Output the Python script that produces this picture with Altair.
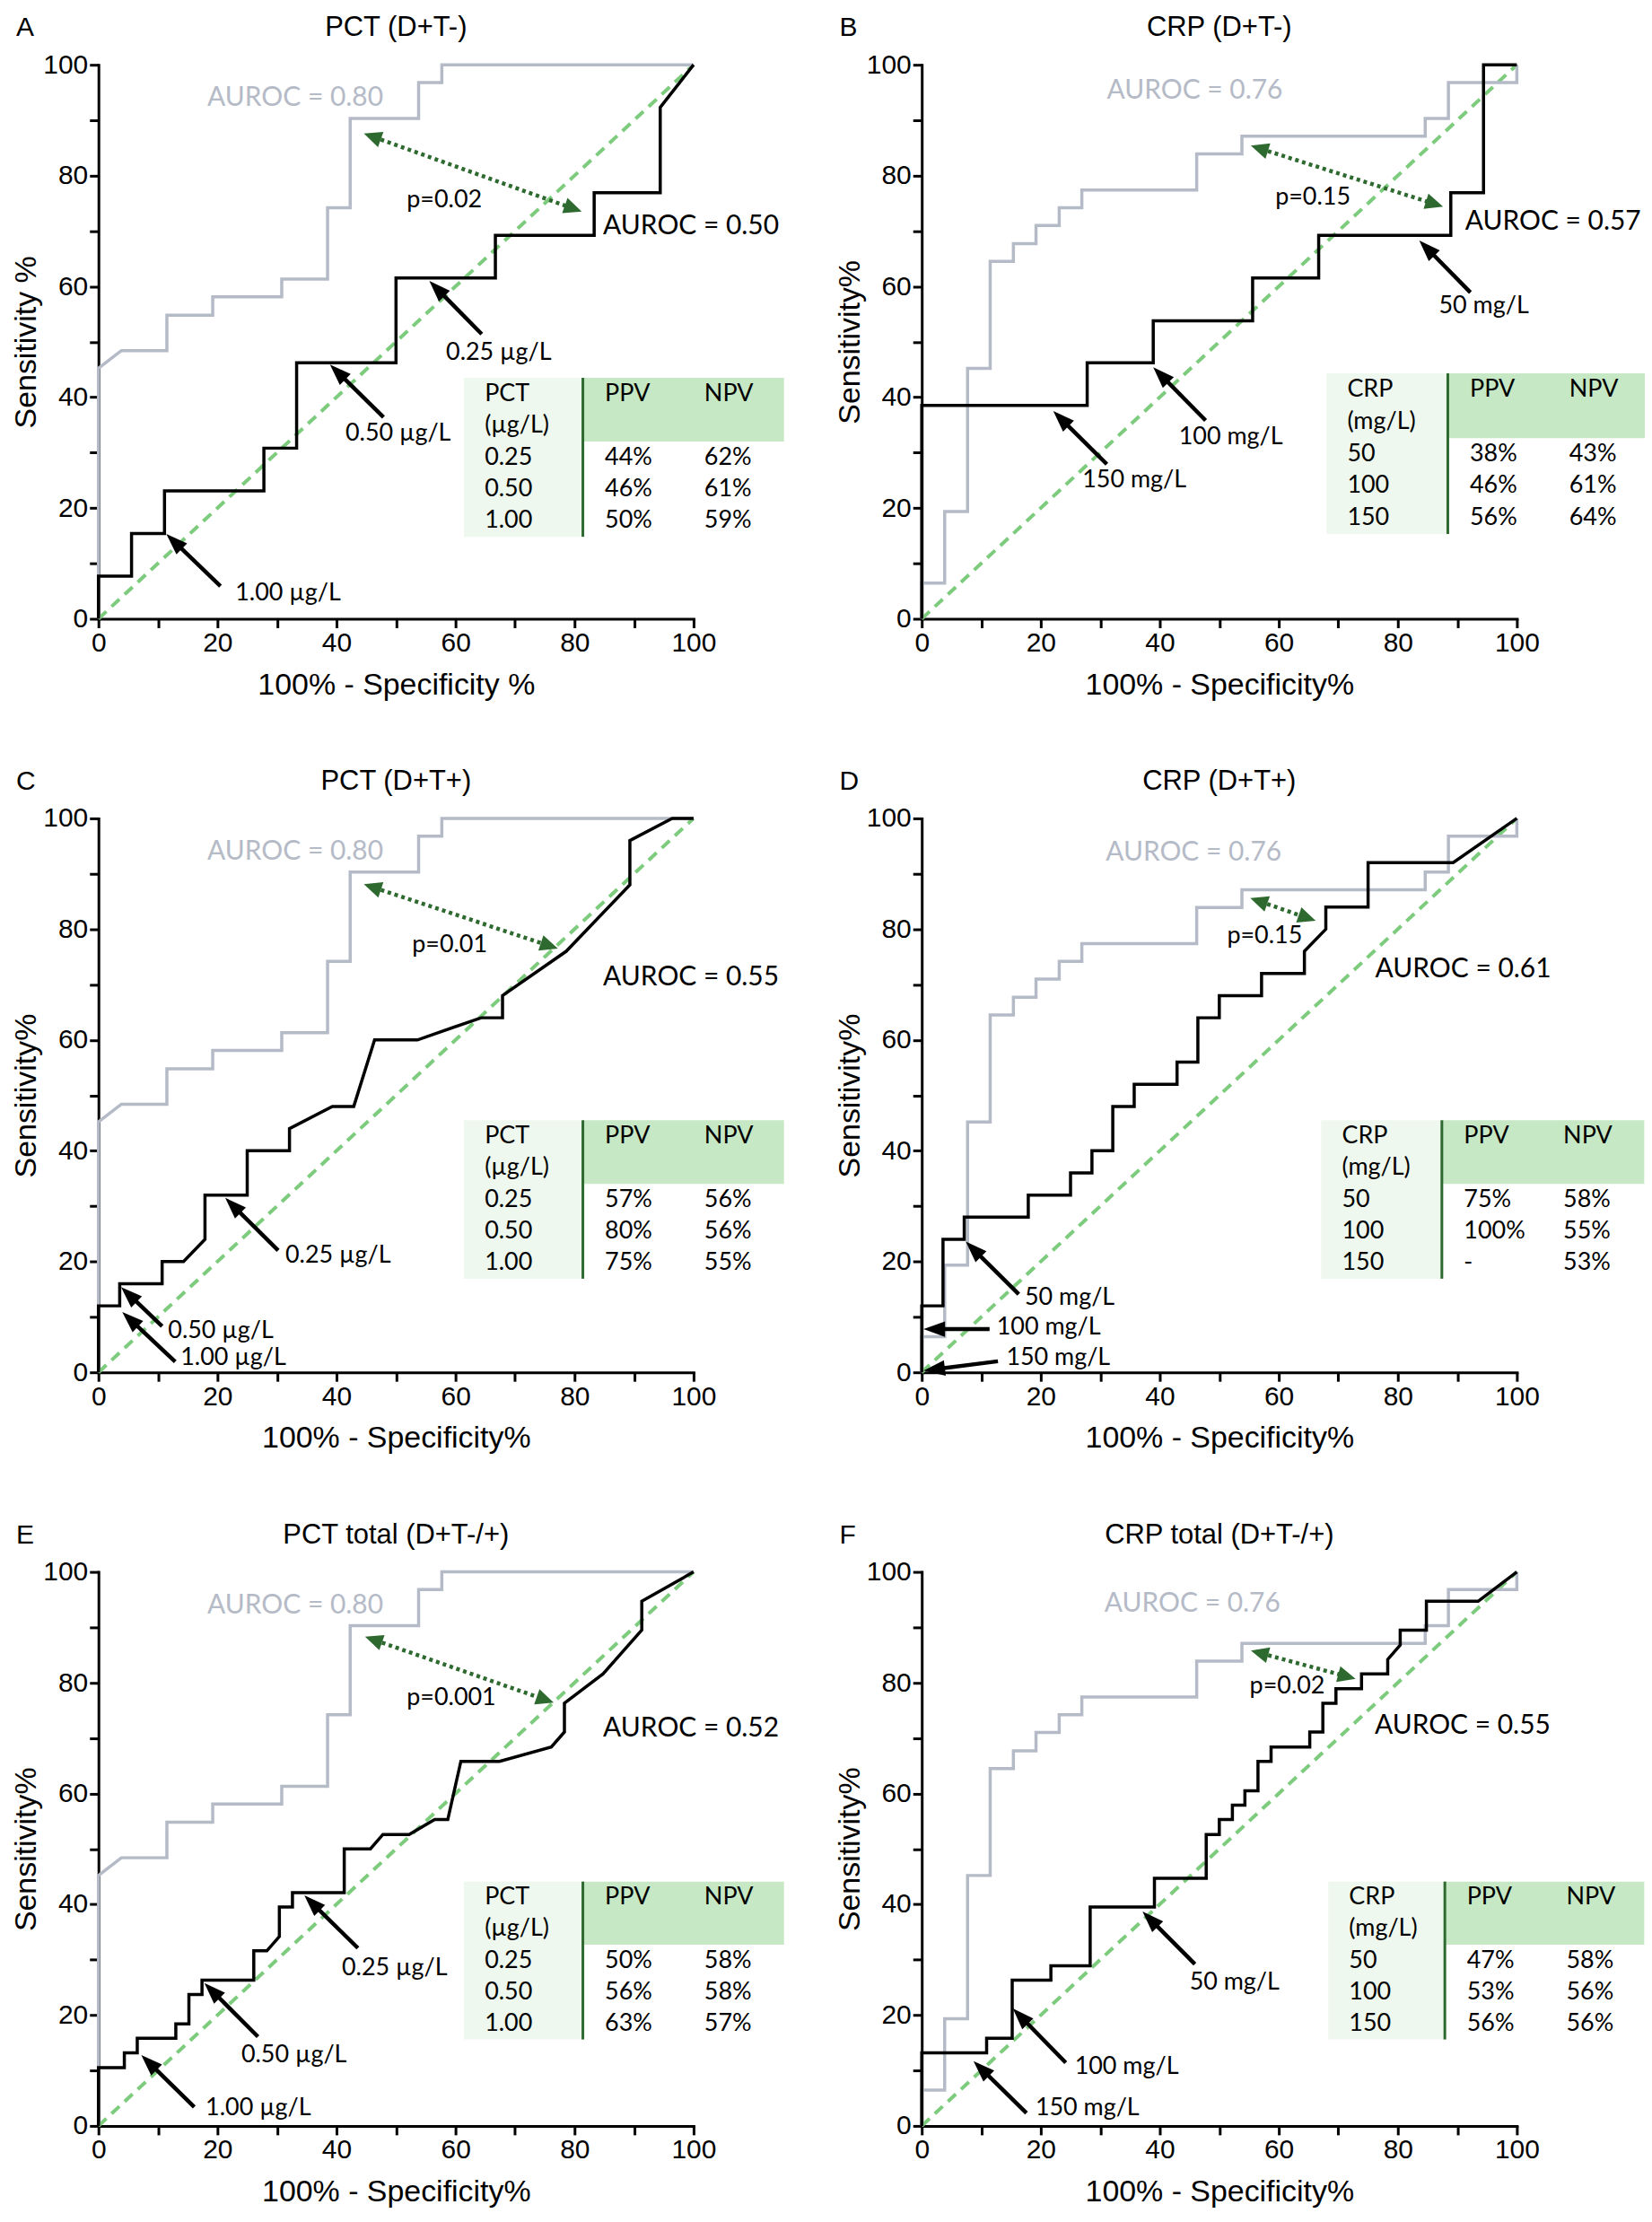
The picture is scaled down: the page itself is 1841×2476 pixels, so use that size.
import math
import altair as alt
import pandas as pd

# ---------------- data: reference ROC curves (grey) ----------------
GREY_PCT_X = [0, 0, 3.85, 11.5, 11.5, 19.2, 19.2, 30.8, 30.8, 38.5, 38.5, 42.3, 42.3, 53.8, 53.8, 57.7, 57.7, 100]
GREY_PCT_Y = [0, 45.2, 48.4, 48.4, 54.8, 54.8, 58.1, 58.1, 61.3, 61.3, 74.2, 74.2, 90.3, 90.3, 96.8, 96.8, 100, 100]
GREY_CRP_X = [0, 0, 3.85, 3.85, 7.7, 7.7, 11.5, 11.5, 15.4, 15.4, 19.2, 19.2, 23.1, 23.1, 26.9, 26.9,
              46.2, 46.2, 53.8, 53.8, 84.6, 84.6, 88.5, 88.5, 100, 100]
GREY_CRP_Y = [0, 6.45, 6.45, 19.35, 19.35, 45.2, 45.2, 64.5, 64.5, 67.7, 67.7, 71.0, 71.0, 74.2, 74.2, 77.4,
              77.4, 83.9, 83.9, 87.1, 87.1, 90.3, 90.3, 96.8, 96.8, 100]

# ---------------- data: ROC curves of each panel (black) ----------------
A_X = [0, 0, 5.56, 5.56, 11.1, 11.1, 27.8, 27.8, 33.3, 33.3, 50, 50, 66.7, 66.7, 83.3, 83.3, 94.4, 94.4, 100]
A_Y = [0, 7.7, 7.7, 15.4, 15.4, 23.1, 23.1, 30.8, 30.8, 46.2, 46.2, 61.5, 61.5, 69.2, 69.2, 76.9, 76.9, 92.3, 100]
B_X = [0, 0, 27.8, 27.8, 38.9, 38.9, 55.6, 55.6, 66.7, 66.7, 88.9, 88.9, 94.4, 94.4, 100]
B_Y = [0, 38.5, 38.5, 46.2, 46.2, 53.8, 53.8, 61.5, 61.5, 69.2, 69.2, 76.9, 76.9, 100, 100]
C_X = [0, 0, 3.57, 3.57, 10.7, 10.7, 14.3, 17.9, 17.9, 25.0, 25.0, 32.1, 32.1, 39.3, 42.9, 46.4, 53.6,
       64.3, 67.9, 67.9, 78.6, 89.3, 89.3, 96.4, 100]
C_Y = [0, 12, 12, 16, 16, 20, 20, 24, 32, 32, 40, 40, 44, 48, 48, 60, 60, 64, 64, 68, 76, 88, 96, 100, 100]
D_X = [0, 0, 3.57, 3.57, 7.14, 7.14, 17.9, 17.9, 25, 25, 28.6, 28.6, 32.1, 32.1, 35.7, 35.7, 42.9, 42.9,
       46.4, 46.4, 50, 50, 57.1, 57.1, 64.3, 64.3, 67.9, 67.9, 75, 75, 89.3, 100]
D_Y = [0, 12, 12, 24, 24, 28, 28, 32, 32, 36, 36, 40, 40, 48, 48, 52, 52, 56, 56, 64, 64, 68, 68, 72, 72,
       76, 80, 84, 84, 92, 92, 100]
E_X = [0, 0, 4.35, 4.35, 6.52, 6.52, 13.0, 13.0, 15.2, 15.2, 17.4, 17.4, 26.1, 26.1, 28.3, 30.4, 30.4,
       32.6, 32.6, 41.3, 41.3, 45.7, 47.8, 52.2, 56.5, 58.7, 60.9, 67.4, 76.1, 78.3, 78.3, 84.8, 91.3, 91.3, 100]
E_Y = [0, 10.5, 10.5, 13.2, 13.2, 15.8, 15.8, 18.4, 18.4, 23.7, 23.7, 26.3, 26.3, 31.6, 31.6, 34.2, 39.5,
       39.5, 42.1, 42.1, 50, 50, 52.6, 52.6, 55.3, 55.3, 65.8, 65.8, 68.4, 71.1, 76.3, 81.6, 89.5, 94.7, 100]
F_X = [0, 0, 10.9, 10.9, 15.2, 15.2, 21.7, 21.7, 28.3, 28.3, 39.1, 39.1, 47.8, 47.8, 50, 50, 52.2, 52.2,
       54.3, 54.3, 56.5, 56.5, 58.7, 58.7, 65.2, 65.2, 67.4, 67.4, 69.6, 69.6, 73.9, 73.9, 78.3, 78.3,
       80.4, 80.4, 84.8, 84.8, 93.5, 100]
F_Y = [0, 13.2, 13.2, 15.8, 15.8, 26.3, 26.3, 28.9, 28.9, 39.5, 39.5, 44.7, 44.7, 52.6, 52.6, 55.3, 55.3,
       57.9, 57.9, 60.5, 60.5, 65.8, 65.8, 68.4, 68.4, 71.1, 71.1, 76.3, 76.3, 78.9, 78.9, 81.6, 81.6,
       84.2, 86.8, 89.5, 89.5, 94.7, 94.7, 100]

CURVES_X = [A_X, B_X, C_X, D_X, E_X, F_X]
CURVES_Y = [A_Y, B_Y, C_Y, D_Y, E_Y, F_Y]
GREY_X = [GREY_PCT_X, GREY_CRP_X] * 3
GREY_Y = [GREY_PCT_Y, GREY_CRP_Y] * 3

# ---------------- texts ----------------
LETTERS = ["A", "B", "C", "D", "E", "F"]
TITLES = ["PCT (D+T-)", "CRP (D+T-)", "PCT (D+T+)", "CRP (D+T+)", "PCT total (D+T-/+)", "CRP total (D+T-/+)"]
X_TITLES = ["100% - Specificity %"] + ["100% - Specificity%"] * 5
Y_TITLES = ["Sensitivity %"] + ["Sensitivity%"] * 5
AUROC_REF = ["AUROC = 0.80", "AUROC = 0.76"] * 3
AUROC_CUR = ["AUROC = 0.50", "AUROC = 0.57", "AUROC = 0.55", "AUROC = 0.61", "AUROC = 0.52", "AUROC = 0.55"]
P_VALUES = ["p=0.02", "p=0.15", "p=0.01", "p=0.15", "p=0.001", "p=0.02"]
CUT_LABELS = [["1.00 µg/L", "0.50 µg/L", "0.25 µg/L"],
              ["50 mg/L", "100 mg/L", "150 mg/L"],
              ["0.25 µg/L", "0.50 µg/L", "1.00 µg/L"],
              ["50 mg/L", "100 mg/L", "150 mg/L"],
              ["0.25 µg/L", "0.50 µg/L", "1.00 µg/L"],
              ["50 mg/L", "100 mg/L", "150 mg/L"]]
TABLE_HEAD = [["PCT", "(µg/L)"], ["CRP", "(mg/L)"]] * 3
TABLE_COLS = ["PPV", "NPV"]
TABLE_CUTS = [["0.25", "0.50", "1.00"], ["50", "100", "150"]] * 3
PPV = [["44%", "46%", "50%"], ["38%", "46%", "56%"], ["57%", "80%", "75%"],
       ["75%", "100%", "-"], ["50%", "56%", "63%"], ["47%", "53%", "56%"]]
NPV = [["62%", "61%", "59%"], ["43%", "61%", "64%"], ["56%", "56%", "55%"],
       ["58%", "55%", "53%"], ["58%", "58%", "57%"], ["58%", "56%", "56%"]]

# ---------------- annotation placement (data coordinates) ----------------
ARROWS = [
    [(20.5, 5.9, 11.4, 15.3), (47.9, 36.4, 38.9, 45.9), (64.4, 51.4, 55.6, 61.0)],
    [(92.2, 58.9, 83.6, 68.3), (47.7, 35.8, 38.9, 45.4), (31.1, 27.9, 22.1, 37.5)],
    [(30.2, 22.0, 21.3, 31.5), (10.7, 8.3, 3.8, 15.4), (12.9, 1.9, 4.0, 10.9)],
    [(16.3, 14.1, 7.4, 23.6), (11.4, 7.8, 0.3, 7.8), (12.8, 2.0, 0.3, 0.3)],
    [(43.6, 32.1, 34.6, 41.6), (26.8, 16.1, 17.8, 25.8), (16.1, 3.4, 7.2, 12.8)],
    [(45.9, 29.2, 37.1, 38.7), (24.2, 11.4, 15.3, 21.2), (17.6, 2.3, 8.7, 11.7)],
]
CUT_POS = [
    [(23.0, 4.6), (41.5, 33.5), (58.4, 48.1)],
    [(86.9, 56.5), (43.2, 32.8), (27.0, 25.1)],
    [(31.4, 21.1), (11.7, 7.4), (13.8, 2.6)],
    [(17.3, 13.4), (12.6, 8.1), (14.2, 2.7)],
    [(40.9, 28.5), (24.0, 12.8), (18.0, 3.2)],
    [(45.0, 25.9), (25.7, 10.6), (19.1, 3.2)],
]
DOTTED = [(44.6, 87.6, 81.2, 73.5), (55.3, 85.4, 87.6, 74.4), (44.6, 88.1, 77.2, 76.5),
          (55.2, 85.6, 66.2, 81.5), (44.8, 88.3, 76.5, 76.4), (55.3, 85.8, 72.9, 80.7)]
P_POS = [(51.8, 75.5), (59.4, 76.1), (52.7, 77.2), (51.3, 78.7), (51.8, 77.3), (55.1, 79.4)]
REF_POS = [(18.3, 94.0), (31.1, 95.4), (18.3, 94.0), (30.9, 93.8), (18.3, 94.0), (30.7, 94.3)]
CUR_POS = [(84.8, 70.9), (91.3, 71.7), (84.8, 71.3), (76.2, 72.7), (84.8, 71.7), (76.1, 72.2)]
TABLE_BOX = [  # left, divider, right, top, header bottom, bottom
    (61.4, 81.4, 115.2, 43.5, 32.0, 14.8),
    (68.0, 88.4, 121.5, 44.3, 32.6, 15.3),
    (61.4, 81.4, 115.2, 45.5, 34.0, 16.9),
    (67.1, 87.4, 121.4, 45.5, 34.0, 16.9),
    (61.4, 81.4, 115.2, 44.1, 32.7, 15.6),
    (68.3, 87.9, 121.4, 44.1, 32.7, 15.6),
]

# ---------------- style ----------------
W, H = 665, 619
SX, SY = W / 100.0, H / 100.0
AX_FONT = "Liberation Sans"
ANN_FONT = "Lato"
GREY_C = "#b5bac7"
DIAG_C = "#7dcb7d"
DARK_G = "#2e6a2f"
HEAD_BG = "#c6e8c4"
COL_BG = "#eff8ee"
TICKS = list(range(0, 101, 10))
BLACK_HEAD = "M0,0L0.36,1L-0.36,1Z"
GREEN_HEAD = "M0,0L0.45,1L-0.45,1Z"


def make_axis(title, is_x):
    return alt.Axis(
        title=title, values=TICKS,
        labelExpr="datum.value % 20 === 0 ? datum.label : ''",
        grid=False, domainColor="black", domainWidth=3, domainCap="square",
        tickColor="black", tickWidth=3, tickSize=10,
        labelFont=AX_FONT, labelFontSize=30, labelColor="black",
        labelPadding=2, labelFlush=False, labelOverlap=False,
        titleFont=AX_FONT, titleFontSize=34, titleFontWeight="normal", titleColor="black",
        titlePadding=15 if is_x else 1,
    )


def head_angle(tx, ty, hx, hy):
    return math.degrees(math.atan2((hx - tx) * SX, (hy - ty) * SY)) % 360


def shorten(tx, ty, hx, hy, px):
    L = math.hypot((hx - tx) * SX, (hy - ty) * SY)
    f = px / L
    return hx - (hx - tx) * f, hy - (hy - ty) * f


def build_panel(k):
    xsc = alt.Scale(domain=[0, 100], nice=False, zero=False)
    ysc = alt.Scale(domain=[0, 100], nice=False, zero=False)
    ax = make_axis(X_TITLES[k], True)
    ay = make_axis(Y_TITLES[k], False)

    def ex():
        return alt.X("x:Q", scale=xsc, axis=ax)

    def ey():
        return alt.Y("y:Q", scale=ysc, axis=ay)

    layers = []
    # table background
    tl, td, tr, tt, th, tb = TABLE_BOX[k]
    bg = pd.DataFrame({"x": [tl, td], "x2": [td, tr], "y": [tb, th], "y2": [tt, tt], "c": [COL_BG, HEAD_BG]})
    layers.append(alt.Chart(bg).mark_rect().encode(
        x=ex(), x2=alt.X2("x2"), y=ey(), y2=alt.Y2("y2"), color=alt.Color("c:N", scale=None)))
    layers.append(alt.Chart(pd.DataFrame({"x": [td], "y": [tb], "y2": [tt]})).mark_rule(
        color=DARK_G, strokeWidth=3).encode(x=ex(), y=ey(), y2=alt.Y2("y2")))
    h = tt - tb
    ry = [tt - h * (i + 0.5) / 5 for i in range(5)]
    cols = [tl + 3.5, td + 3.7, td + 20.4]
    cells = [(cols[0], ry[0], TABLE_HEAD[k][0]), (cols[0], ry[1], TABLE_HEAD[k][1]),
             (cols[1], ry[0], TABLE_COLS[0]), (cols[2], ry[0], TABLE_COLS[1])]
    for i in range(3):
        cells += [(cols[0], ry[2 + i], TABLE_CUTS[k][i]), (cols[1], ry[2 + i], PPV[k][i]),
                  (cols[2], ry[2 + i], NPV[k][i])]
    layers.append(alt.Chart(pd.DataFrame(cells, columns=["x", "y", "t"])).mark_text(
        font=ANN_FONT, fontSize=27, align="left", baseline="middle", color="black").encode(
        x=ex(), y=ey(), text="t:N"))

    # diagonal
    layers.append(alt.Chart(pd.DataFrame({"x": [0, 100], "y": [0, 100]})).mark_line(
        color=DIAG_C, strokeWidth=4, strokeDash=[12, 8]).encode(x=ex(), y=ey()))
    # grey reference curve
    gdf = pd.DataFrame({"x": GREY_X[k], "y": GREY_Y[k], "i": range(len(GREY_X[k]))})
    layers.append(alt.Chart(gdf).mark_line(color=GREY_C, strokeWidth=3.5).encode(
        x=ex(), y=ey(), order="i:Q"))
    # black curve
    bdf = pd.DataFrame({"x": CURVES_X[k], "y": CURVES_Y[k], "i": range(len(CURVES_X[k]))})
    layers.append(alt.Chart(bdf).mark_line(color="black", strokeWidth=3.5).encode(
        x=ex(), y=ey(), order="i:Q"))

    # dotted double arrow
    ax1, ay1, ax2, ay2 = DOTTED[k]
    s2 = shorten(ax1, ay1, ax2, ay2, 12)
    s1 = shorten(ax2, ay2, ax1, ay1, 12)
    layers.append(alt.Chart(pd.DataFrame({"x": [s1[0]], "y": [s1[1]], "x2": [s2[0]], "y2": [s2[1]]})).mark_rule(
        color=DARK_G, strokeWidth=4.5, strokeDash=[4, 4]).encode(
        x=ex(), y=ey(), x2=alt.X2("x2"), y2=alt.Y2("y2")))
    gh = pd.DataFrame({"x": [ax2, ax1], "y": [ay2, ay1],
                       "a": [head_angle(ax1, ay1, ax2, ay2), head_angle(ax2, ay2, ax1, ay1)]})
    layers.append(alt.Chart(gh).mark_point(shape=GREEN_HEAD, filled=True, color=DARK_G, size=1600,
                                           opacity=1, strokeWidth=0).encode(
        x=ex(), y=ey(), angle=alt.Angle("a:Q", scale=None)))

    # black arrows
    segs, heads = [], []
    for (tx, ty, hx, hy) in ARROWS[k]:
        e = shorten(tx, ty, hx, hy, 15)
        segs.append((tx, ty, e[0], e[1]))
        heads.append((hx, hy, head_angle(tx, ty, hx, hy)))
    layers.append(alt.Chart(pd.DataFrame(segs, columns=["x", "y", "x2", "y2"])).mark_rule(
        color="black", strokeWidth=4.5).encode(x=ex(), y=ey(), x2=alt.X2("x2"), y2=alt.Y2("y2")))
    layers.append(alt.Chart(pd.DataFrame(heads, columns=["x", "y", "a"])).mark_point(
        shape=BLACK_HEAD, filled=True, color="black", size=2304, opacity=1, strokeWidth=0).encode(
        x=ex(), y=ey(), angle=alt.Angle("a:Q", scale=None)))

    # cut-off labels
    lab = [(p[0], p[1], t) for p, t in zip(CUT_POS[k], CUT_LABELS[k])]
    layers.append(alt.Chart(pd.DataFrame(lab, columns=["x", "y", "t"])).mark_text(
        font=ANN_FONT, fontSize=27, align="left", baseline="middle", color="black").encode(
        x=ex(), y=ey(), text="t:N"))
    # p value
    layers.append(alt.Chart(pd.DataFrame({"x": [P_POS[k][0]], "y": [P_POS[k][1]], "t": [P_VALUES[k]]})).mark_text(
        font=ANN_FONT, fontSize=27, align="left", baseline="middle", color="black").encode(
        x=ex(), y=ey(), text="t:N"))
    # AUROC texts
    layers.append(alt.Chart(pd.DataFrame({"x": [REF_POS[k][0]], "y": [REF_POS[k][1]], "t": [AUROC_REF[k]]})).mark_text(
        font=ANN_FONT, fontSize=30, align="left", baseline="middle", color=GREY_C).encode(
        x=ex(), y=ey(), text="t:N"))
    layers.append(alt.Chart(pd.DataFrame({"x": [CUR_POS[k][0]], "y": [CUR_POS[k][1]], "t": [AUROC_CUR[k]]})).mark_text(
        font=ANN_FONT, fontSize=30, align="left", baseline="middle", color="black").encode(
        x=ex(), y=ey(), text="t:N"))

    # panel letter and title
    layers.append(alt.Chart(pd.DataFrame({"t": [LETTERS[k]]})).mark_text(
        font=AX_FONT, fontSize=30, align="left", baseline="middle", color="black").encode(
        x=alt.value(-92), y=alt.value(-41), text="t:N"))
    layers.append(alt.Chart(pd.DataFrame({"t": [TITLES[k]]})).mark_text(
        font=AX_FONT, fontSize=31, align="center", baseline="middle", color="black").encode(
        x=alt.value(W / 2), y=alt.value(-41), text="t:N"))

    return alt.layer(*layers).properties(width=W, height=H)


panels = [build_panel(k) for k in range(6)]
chart = alt.concat(*panels, columns=2, spacing={"row": 223, "column": 255}, bounds="flush").properties(
    padding={"left": 4, "top": 4, "right": 0, "bottom": 4}
).configure_view(stroke=None)

chart.save("out.html", embed_options={"renderer": "svg", "actions": False})
